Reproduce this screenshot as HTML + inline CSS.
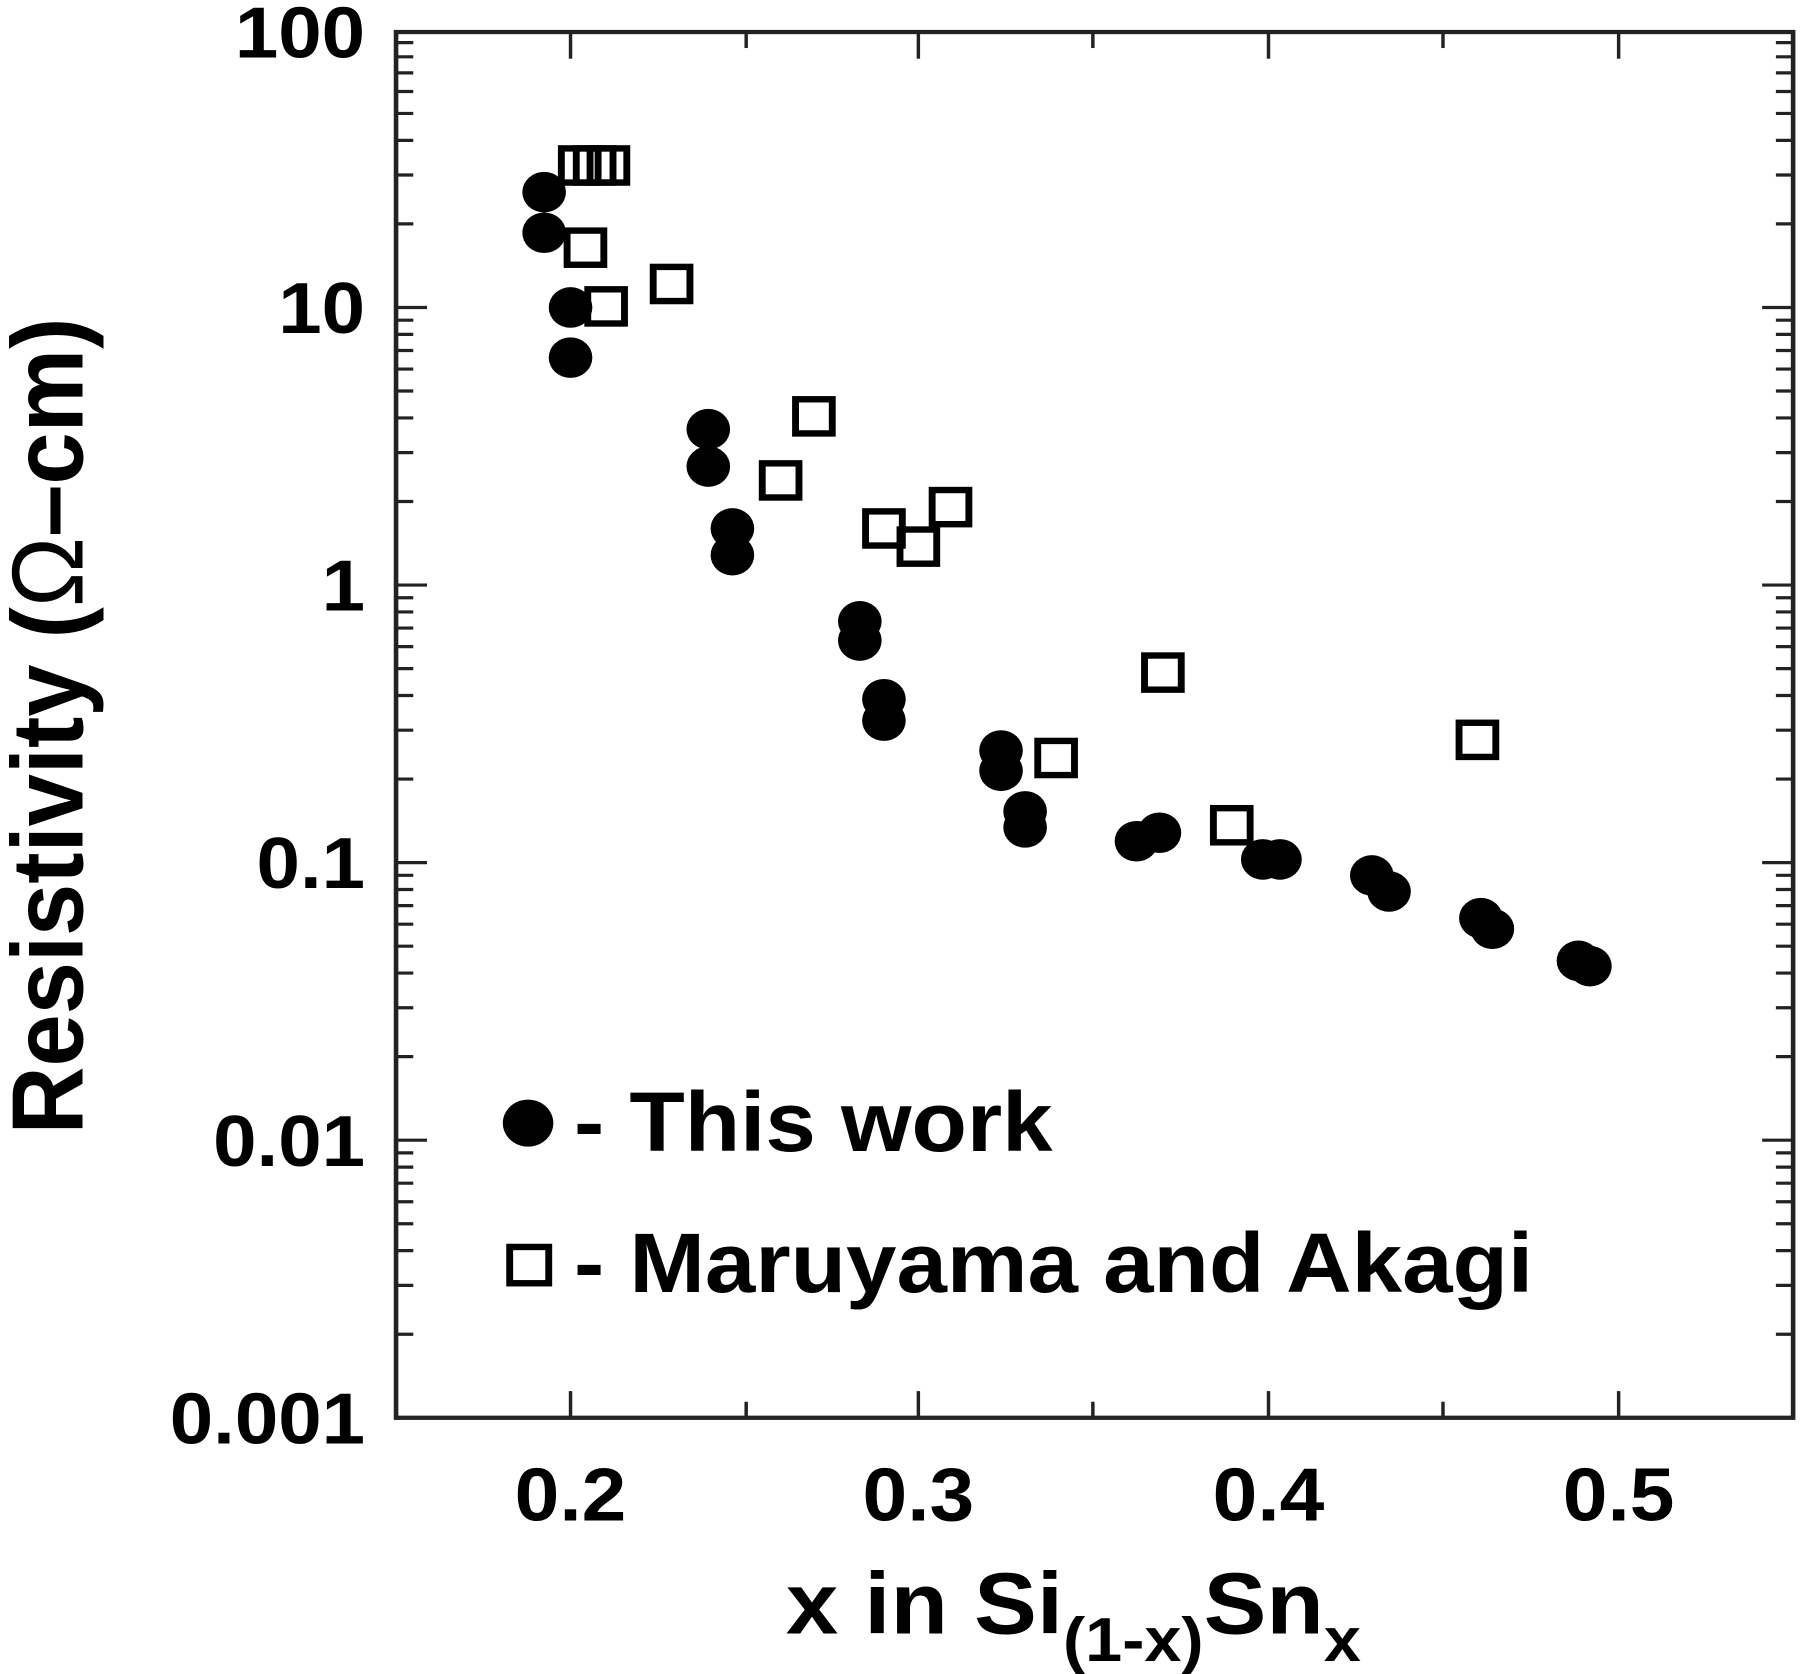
<!DOCTYPE html>
<html><head><meta charset="utf-8"><style>
html,body{margin:0;padding:0;background:#fff;}
svg{display:block;}
text{font-family:"Liberation Sans",Arial,sans-serif;font-weight:bold;fill:#000;}
</style></head><body>
<svg id="s" width="1800" height="1674" viewBox="0 0 1568 1568" preserveAspectRatio="none" xmlns="http://www.w3.org/2000/svg">
<rect x="345" y="30" width="1217" height="1298" fill="none" stroke="#222" stroke-width="4"/>
<g id="ticks" stroke="#222" stroke-width="3"></g>
<g font-size="68" text-anchor="end">
<text x="318" y="54">100</text>
<text x="318" y="312">10</text>
<text x="318" y="572">1</text>
<text x="318" y="832">0.1</text>
<text x="318" y="1092">0.01</text>
<text x="318" y="1352">0.001</text>
</g>
<g font-size="70" text-anchor="middle">
<text x="497" y="1424">0.2</text>
<text x="800" y="1424">0.3</text>
<text x="1105" y="1424">0.4</text>
<text x="1410" y="1424">0.5</text>
</g>
<text x="935" y="1530" font-size="82" text-anchor="middle">x in Si<tspan font-size="58" dy="26">(1-x)</tspan><tspan dy="-26">Sn</tspan><tspan font-size="58" dy="26">x</tspan></text>
<text transform="translate(72,680) rotate(-90)" font-size="88" text-anchor="middle">Resistivity (<tspan font-weight="normal">Ω</tspan>–cm)</text>
<g id="pts"></g>
<circle cx="460" cy="1052" r="22" fill="#000"/>
<text x="500" y="1078" font-size="79">- This work</text>
<rect x="444" y="1168" width="34" height="34" fill="none" stroke="#000" stroke-width="6"/>
<text x="500" y="1210" font-size="79">- Maruyama and Akagi</text>
</svg>
<script>
var ns="http://www.w3.org/2000/svg",t=document.getElementById('ticks'),p=document.getElementById('pts');
function L(x1,y1,x2,y2){var l=document.createElementNS(ns,'line');l.setAttribute('x1',x1);l.setAttribute('y1',y1);l.setAttribute('x2',x2);l.setAttribute('y2',y2);t.appendChild(l);}
for(var d=0;d<5;d++){var base=1328-d*260;L(345,base,372,base);L(1562,base,1535,base);
for(var k=2;k<10;k++){var y=base-260*Math.log10(k);L(345,y,360,y);L(1562,y,1547,y);}}
var xs=[497,650,800,952,1105,1257,1410];
xs.forEach(function(x,i){var len=i%2==0?25:15;L(x,1328,x,1328-len);L(x,30,x,30+len);});
var C=[[474,180],[474,218],[497,288],[497,335],[617,402],[617,437],[638,495],[638,520],[749,582],[749,600],[770,655],[770,675],[872,703],[872,722],[893,760],[893,775],[990,788],[1010,780],[1100,805],[1115,805],[1195,820],[1210,835],[1290,860],[1300,870],[1375,900],[1385,905]];
C.forEach(function(c){var e=document.createElementNS(ns,'circle');e.setAttribute('cx',c[0]);e.setAttribute('cy',c[1]);e.setAttribute('r',19);e.setAttribute('fill','#000');p.appendChild(e);});
var S=[[505,155],[518,155],[530,155],[510,232],[528,287],[585,266],[709,390],[680,450],[770,495],[800,512],[828,475],[920,710],[1013,630],[1073,773],[1287,693]];
S.forEach(function(c){var e=document.createElementNS(ns,'rect');e.setAttribute('x',c[0]-16);e.setAttribute('y',c[1]-16);e.setAttribute('width',32);e.setAttribute('height',32);e.setAttribute('fill','none');e.setAttribute('stroke','#000');e.setAttribute('stroke-width',6);p.appendChild(e);});
</script>
</body></html>
